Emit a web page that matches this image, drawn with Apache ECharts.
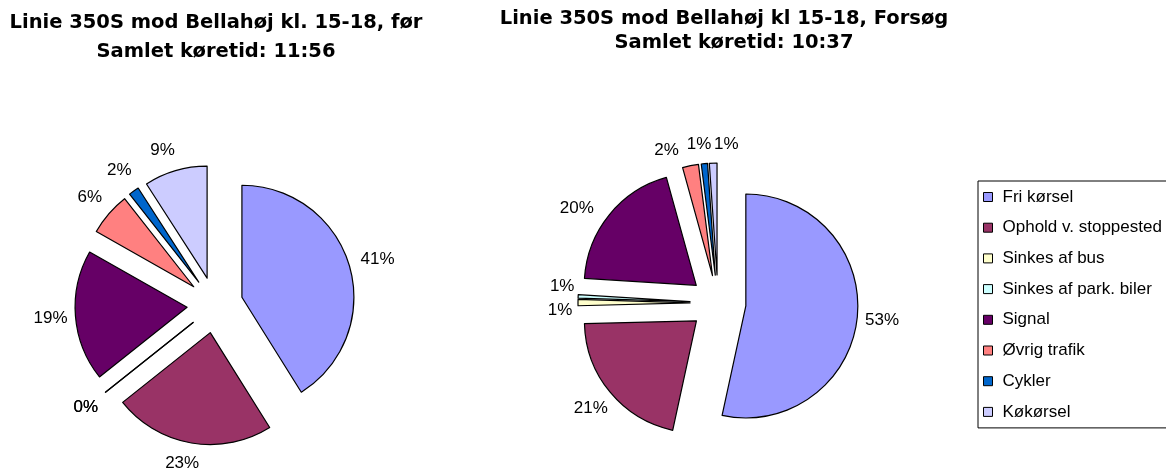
<!DOCTYPE html>
<html>
<head>
<meta charset="utf-8">
<script src="https://cdn.jsdelivr.net/npm/echarts@6/dist/echarts.min.js"></script>
<style>
html,body{margin:0;padding:0;background:#fff;}
#chart{width:1166px;height:469px;}
</style>
</head>
<body>
<div id="chart"></div>
<script>
const categories = ['Fri kørsel', 'Ophold v. stoppested', 'Sinkes af bus', 'Sinkes af park. biler', 'Signal', 'Øvrig trafik', 'Cykler', 'Køkørsel'];
const colors = ['#9999FF', '#993366', '#FFFFCC', '#CCFFFF', '#660066', '#FF8080', '#0066CC', '#CCCCFF'];
const beforeValues = [41.1, 23.2, 0, 0, 18.9, 6.2, 1.5, 9.1];
const afterValues = [53.4, 21.2, 0.9, 0.5, 19.7, 2.3, 0.9, 1.1];
const leftTitle = ['Linie 350S mod Bellahøj kl. 15-18, før', 'Samlet køretid: 11:56'];
const rightTitle = ['Linie 350S mod Bellahøj kl 15-18, Forsøg', 'Samlet køretid: 10:37'];

const FONT = "'Liberation Sans', Arial, sans-serif";
const TITLE_FONT = "'DejaVu Sans', 'Liberation Sans', Arial, sans-serif";
const R = 112;
const OFFSET = 28;
const leftCenter = [215, 305];
const rightCenter = [718, 303];

// small label nudges (like the manually moved labels in the original), by data index
const leftLabelNudge = {
  0: [4, 0],
  1: [-5, -4],
  7: [-6, 4]
};
const rightLabelNudge = {
  2: [7, 8],
  3: [9, -9],
  4: [-13, 9],
  5: [-19, 9],
  6: [-3, 6],
  7: [14, 6]
};

function makeData(values, withColor) {
  return values.map((v, i) => ({
    name: categories[i],
    value: v,
    selected: true,
    itemStyle: withColor ? { color: colors[i] } : { color: 'rgba(0,0,0,0)', borderWidth: 0 }
  }));
}

function pieSeries(values, center) {
  return {
    type: 'pie',
    center: center,
    radius: [0, R],
    startAngle: 90,
    clockwise: true,
    selectedMode: 'multiple',
    selectedOffset: OFFSET,
    avoidLabelOverlap: false,
    silent: true,
    animation: false,
    itemStyle: { borderColor: '#000', borderWidth: 1.2 },
    select: { itemStyle: { borderColor: '#000', borderWidth: 1.2 } },
    emphasis: { disabled: true, scale: false },
    label: { show: false },
    labelLine: { show: false },
    data: makeData(values, true)
  };
}

function labelSeries(values, center, nudge) {
  return {
    type: 'pie',
    center: center,
    radius: [R, R + 44],
    startAngle: 90,
    clockwise: true,
    selectedMode: 'multiple',
    selectedOffset: OFFSET,
    avoidLabelOverlap: false,
    silent: true,
    animation: false,
    legendHoverLink: false,
    itemStyle: { color: 'rgba(0,0,0,0)', borderWidth: 0 },
    select: { itemStyle: { color: 'rgba(0,0,0,0)', borderWidth: 0 } },
    emphasis: { disabled: true, scale: false },
    label: {
      show: true,
      position: 'inside',
      color: '#000',
      fontFamily: FONT,
      fontSize: 17,
      formatter: p => Math.round(p.percent) + '%'
    },
    labelLine: { show: false },
    labelLayout: function (params) {
      const n = nudge[params.dataIndex];
      return n ? { dx: n[0], dy: n[1] } : {};
    },
    data: makeData(values, false)
  };
}

const chart = echarts.init(document.getElementById('chart'), null, { renderer: 'canvas' });
const titleStyle = { fontFamily: TITLE_FONT, fontSize: 19.5, fontWeight: 'bold', color: '#000' };
chart.setOption({
  backgroundColor: '#fff',
  animation: false,
  color: colors,
  title: [
    { text: leftTitle[0], left: 216, top: 23, textAlign: 'center', textVerticalAlign: 'middle', padding: 0, textStyle: titleStyle },
    { text: leftTitle[1], left: 216, top: 52, textAlign: 'center', textVerticalAlign: 'middle', padding: 0, textStyle: titleStyle },
    { text: rightTitle[0], left: 724, top: 19, textAlign: 'center', textVerticalAlign: 'middle', padding: 0, textStyle: titleStyle },
    { text: rightTitle[1], left: 734, top: 43, textAlign: 'center', textVerticalAlign: 'middle', padding: 0, textStyle: titleStyle }
  ],
  legend: {
    orient: 'vertical',
    left: 978,
    top: 181,
    padding: [6, 40, 6, 5],
    itemWidth: 9,
    itemHeight: 9,
    itemGap: 10.7,
    selectedMode: false,
    borderColor: '#000',
    borderWidth: 1,
    icon: 'rect',
    itemStyle: { borderColor: '#000', borderWidth: 1 },
    textStyle: { fontFamily: FONT, fontSize: 17, color: '#000', lineHeight: 20, padding: [0, 0, 0, 5] },
    data: categories
  },
  series: [
    pieSeries(beforeValues, leftCenter),
    pieSeries(afterValues, rightCenter),
    labelSeries(beforeValues, leftCenter, leftLabelNudge),
    labelSeries(afterValues, rightCenter, rightLabelNudge)
  ]
});
</script>
</body>
</html>
